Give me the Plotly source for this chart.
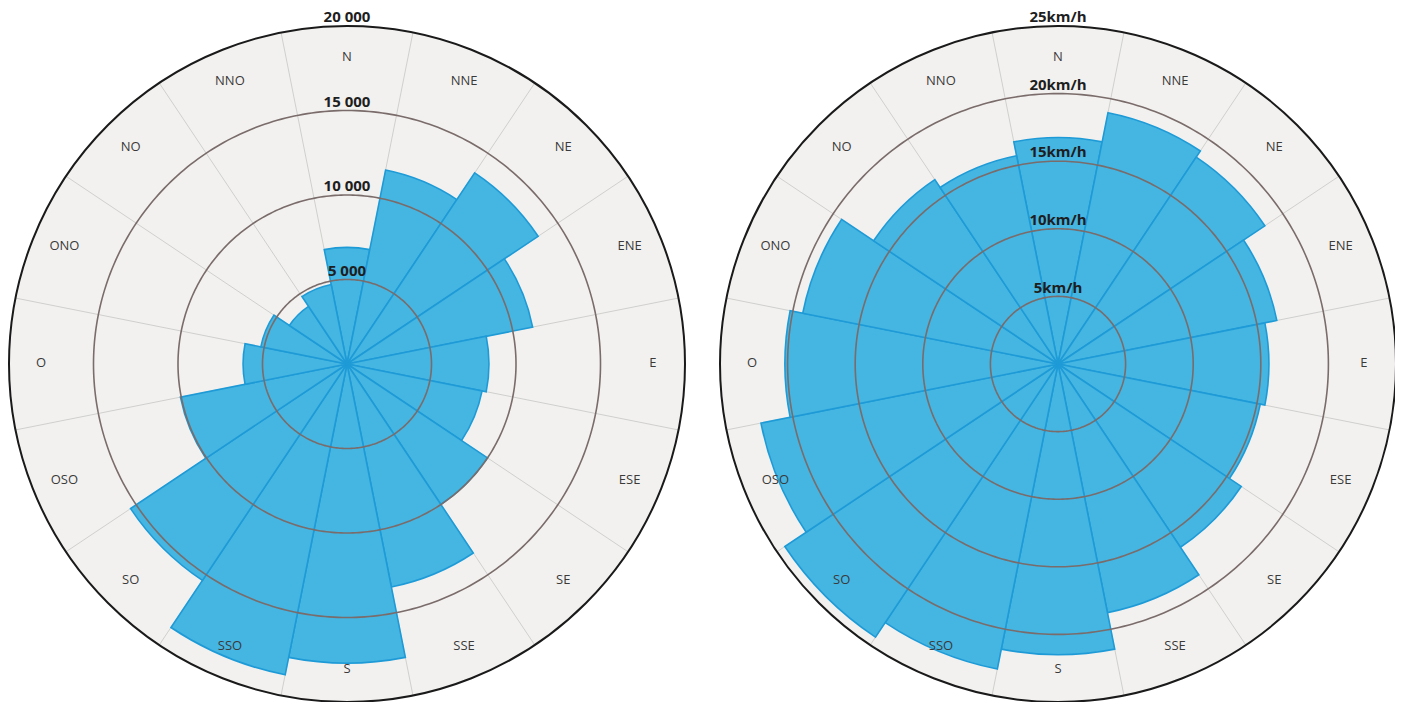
import numpy as np
import plotly.graph_objects as go

directions = ["N", "NNE", "NE", "ENE", "E", "ESE", "SE", "SSE",
              "S", "SSO", "SO", "OSO", "O", "ONO", "NO", "NNO"]
angles = [i * 22.5 for i in range(16)]

# Left rose: frequency counts
counts = [6900, 11700, 13600, 11200, 8400, 8150, 10000, 13450,
          17700, 18750, 15400, 10050, 6150, 5200, 4100, 4800]
count_ticks = [5000, 10000, 15000, 20000]
count_tick_labels = ["5 000", "10 000", "15 000", "20 000"]

# Right rose: mean speeds (km/h)
speeds = [16.75, 18.95, 18.4, 16.5, 15.6, 15.25, 16.3, 18.75,
          21.5, 23.0, 24.3, 22.4, 20.2, 19.25, 16.4, 15.7]
speed_ticks = [5, 10, 15, 20, 25]
speed_tick_labels = ["5km/h", "10km/h", "15km/h", "20km/h", "25km/h"]

BAR_FILL = "#45b5e2"
BAR_EDGE = "#1e9bd7"
BG = "#f2f1ef"
GRID_CIRCLE = "#7a6c6a"
FONT = "Open Sans"

fig = go.Figure()


def add_rose(values, ticks, tick_labels, subplot):
    rmax = ticks[-1]
    fig.add_trace(go.Barpolar(
        r=values, theta=angles, width=[22.5] * len(values),
        marker=dict(color=BAR_FILL, line=dict(color=BAR_EDGE, width=1.6)),
        subplot=subplot, hoverinfo="skip", showlegend=False))
    circ = np.linspace(0, 360, 361)
    for t in ticks[:-1]:
        fig.add_trace(go.Scatterpolar(
            r=[t] * len(circ), theta=circ, mode="lines",
            line=dict(color=GRID_CIRCLE, width=1.6),
            subplot=subplot, hoverinfo="skip", showlegend=False))
    fig.add_trace(go.Scatterpolar(
        r=[rmax * 0.905] * len(directions), theta=angles, text=directions,
        mode="text", textfont=dict(family=FONT, size=13, color="#3a3a3a"),
        subplot=subplot, hoverinfo="skip", showlegend=False))
    fig.add_trace(go.Scatterpolar(
        r=ticks, theta=[0] * len(ticks), text=tick_labels,
        mode="text", textposition="top center",
        textfont=dict(family=FONT, size=15, color="#1e1e1e", weight="bold"),
        subplot=subplot, hoverinfo="skip", showlegend=False, cliponaxis=False))


add_rose(counts, count_ticks, count_tick_labels, "polar")
add_rose(speeds, speed_ticks, speed_tick_labels, "polar2")

W, H = 1403, 702
R = 338


def dom(cx, cy):
    return dict(x=[(cx - R) / W, (cx + R) / W],
                y=[(H - cy - R) / H, (H - cy + R) / H])


def polar_layout(rmax, cx, cy):
    return dict(
        domain=dom(cx, cy),
        bgcolor=BG,
        radialaxis=dict(range=[0, rmax], showticklabels=False, ticks="",
                        showgrid=False, showline=False),
        angularaxis=dict(direction="clockwise", rotation=90,
                         tickmode="array",
                         tickvals=[a + 11.25 for a in angles],
                         showticklabels=False, ticks="",
                         gridcolor="#cfcfcd", gridwidth=1,
                         showline=True, linecolor="#1a1a1a", linewidth=2),
    )


fig.update_layout(
    width=W, height=H,
    margin=dict(l=0, r=0, t=0, b=0),
    paper_bgcolor="white",
    polar=polar_layout(count_ticks[-1], 339, 356),
    polar2=polar_layout(speed_ticks[-1], 1050, 356),
    showlegend=False,
)

fig.write_html("out.html")
